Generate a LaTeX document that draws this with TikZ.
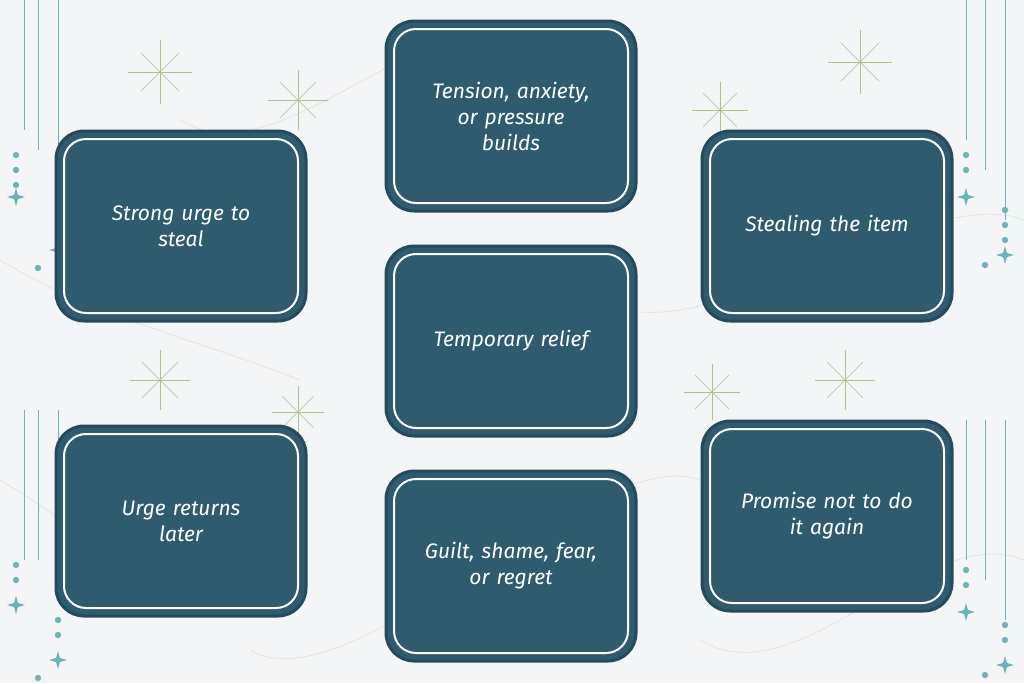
\documentclass[tikz,border=0pt]{standalone}
\usepackage{fontspec}
\setmainfont{Fira Sans}
\begin{document}
\begin{tikzpicture}[x=1pt,y=-1pt,
  outerbox/.style={draw=boxrim,line width=3pt,fill=boxfill,rounded corners=28pt,minimum width=250pt,minimum height=190pt},
  innerbox/.style={draw=white,line width=2pt,rounded corners=22pt,minimum width=234pt,minimum height=174pt},
  lbl/.style={text=white,font=\itshape\fontsize{21}{26}\selectfont,align=center,text width=200pt},
  deco/.style={draw=tealdeco,line width=0.8pt},
  dotd/.style={fill=tealdeco},
  spark/.style={draw=sparkc,line width=0.7pt}]
\definecolor{boxfill}{HTML}{2F5B6E}
\definecolor{boxrim}{HTML}{244A5C}
\definecolor{tealdeco}{HTML}{6FB3BA}
\definecolor{sparkc}{HTML}{A8C48A}
\definecolor{bg}{HTML}{F4F5F6}
\fill[bg] (0,0) rectangle (1024,683);
\useasboundingbox (0,0) rectangle (1024,683);
% marble veins
\foreach \a/\b/\c/\d in {0/260/300/380, 180/120/520/40, 600/300/1024/220, 250/650/700/480, 700/640/1024/560, 0/480/200/600}
  \draw[gray!25,line width=0.6pt] (\a,\b) .. controls (\a+100,\b+60) and (\c-100,\d-40) .. (\c,\d);
% vertical lines
\foreach \x/\ya/\yb in {24/0/130, 38/0/150, 58/0/190, 24/410/560, 38/410/560, 58/410/600, 966/0/140, 985/0/170, 1005/0/220, 966/420/560, 985/420/580, 1005/420/620}
  \draw[deco] (\x,\ya) -- (\x,\yb);
% dots
\foreach \x/\y in {16/155,16/170,16/185,58/210,58/225,38/268,16/565,16/580,58/620,58/635,38/678,966/155,966/170,985/265,1005/210,1005/225,1005/240,966/570,966/585,1005/625,1005/640,985/675}
  \fill[dotd] (\x,\y) circle (3.2pt);
% small four-point stars
\foreach \x/\y in {16/197,58/250,16/605,58/660,966/197,1005/255,966/612,1005/665}
  \fill[tealdeco] (\x,\y-9) -- (\x+2,\y-2) -- (\x+9,\y) -- (\x+2,\y+2) -- (\x,\y+9) -- (\x-2,\y+2) -- (\x-9,\y) -- (\x-2,\y-2) -- cycle;
% sparkles
\foreach \x/\y/\r in {160/72/32, 298/100/30, 720/110/28, 860/62/32, 160/380/30, 298/412/26, 712/392/28, 845/380/30}{
  \draw[spark] (\x-\r,\y) -- (\x+\r,\y) (\x,\y-\r) -- (\x,\y+\r);
  \draw[spark,line width=0.4pt] (\x-0.6*\r,\y-0.6*\r) -- (\x+0.6*\r,\y+0.6*\r) (\x-0.6*\r,\y+0.6*\r) -- (\x+0.6*\r,\y-0.6*\r);}
% boxes
\foreach \n/\x/\y/\t in {a/181/226/{Strong urge to\\steal}, b/511/116/{Tension, anxiety,\\or pressure\\builds}, c/827/226/{Stealing the item}, d/511/341/{Temporary relief}, e/181/521/{Urge returns\\later}, f/511/566/{Guilt, shame, fear,\\or regret}, g/827/516/{Promise not to do\\it again}}{
  \node[outerbox] (\n) at (\x,\y) {};
  \node[innerbox] (\n i) at (\n.center) {};
  \node[lbl] (\n t) at (\n.center) {\t};}
\end{tikzpicture}
\end{document}
